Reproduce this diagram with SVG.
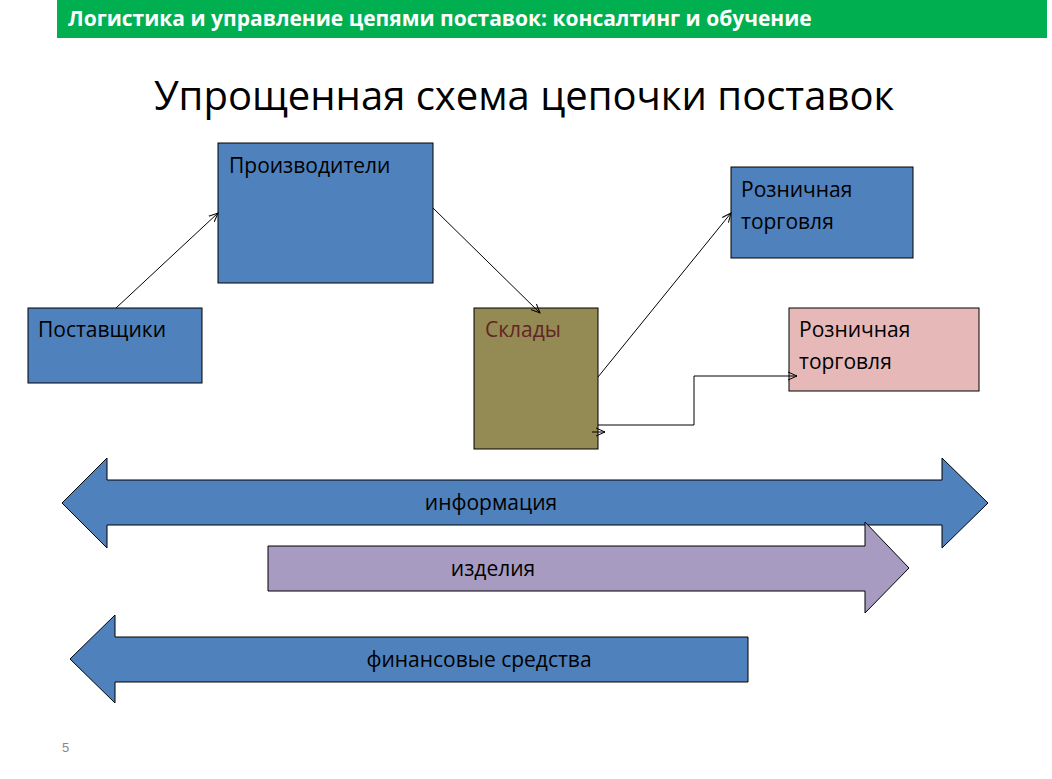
<svg xmlns="http://www.w3.org/2000/svg" width="1052" height="779" viewBox="0 0 1052 779">
<style>
.t{font-family:"Open Sans","Liberation Sans",sans-serif;font-size:21px;fill:#000}
.b{fill:#4F81BD;stroke:#000;stroke-width:1}
.c{stroke:#000;stroke-width:1;fill:none;marker-end:url(#a)}
</style>
<defs><marker id="a" markerWidth="10" markerHeight="10" refX="9" refY="5" orient="auto" markerUnits="userSpaceOnUse"><path d="M0,1 L9,5 L0,9" fill="none" stroke="#000"/></marker></defs>
<rect width="1052" height="779" fill="#fff"/>
<rect x="57" y="0" width="990" height="38" fill="#00B050"/>
<text x="68" y="26" font-family="Open Sans,Liberation Sans,sans-serif" font-size="21" font-weight="bold" fill="#fff">Логистика и управление цепями поставок: консалтинг и обучение</text>
<text x="524" y="110" text-anchor="middle" font-family="Open Sans,Liberation Sans,sans-serif" font-size="40" fill="#000">Упрощенная схема цепочки поставок</text>
<g id="n1"><rect class="b" x="218" y="143" width="215" height="140"/><text class="t" x="229" y="173">Производители</text></g>
<g id="n2"><rect class="b" x="28" y="308" width="174" height="75"/><text class="t" x="38" y="337">Поставщики</text></g>
<g id="n3"><rect x="474" y="308" width="124" height="141" fill="#948A54" stroke="#000"/><text class="t" x="485" y="337" style="fill:#632523">Склады</text></g>
<g id="n4"><rect class="b" x="731" y="167" width="182" height="91"/><text class="t" x="741" y="197">Розничная</text><text class="t" x="741" y="229">торговля</text></g>
<g id="n5"><rect x="789" y="308" width="190" height="83" fill="#E6B9B8" stroke="#000"/><text class="t" x="799" y="337">Розничная</text><text class="t" x="799" y="369">торговля</text></g>
<g id="connectors">
<path class="c" d="M116,308 L218,213"/>
<path class="c" d="M433,208 L540,313"/>
<path class="c" d="M598,377 L731,213"/>
<path class="c" d="M598,425 L694,425 L694,376 L797,376"/>
<path class="c" d="M592,432 L605,432"/>
</g>
<g id="info"><path class="b" d="M62,503 L107,458 L107,480 L942,480 L942,458 L988,503 L942,548 L942,525 L107,525 L107,548 Z"/><text class="t" x="491" y="510" text-anchor="middle">информация</text></g>
<g id="goods"><path d="M268,546 L865,546 L865,522 L909,568 L865,613 L865,591 L268,591 Z" fill="#A89BC2" stroke="#000"/><text class="t" x="493" y="576" text-anchor="middle">изделия</text></g>
<g id="fin"><path class="b" d="M70,659 L115,615 L115,637 L748,637 L748,682 L115,682 L115,703 Z"/><text class="t" x="479" y="667" text-anchor="middle">финансовые средства</text></g>
<text x="62" y="752" font-family="Liberation Sans,sans-serif" font-size="13" fill="#888">5</text>
</svg>
